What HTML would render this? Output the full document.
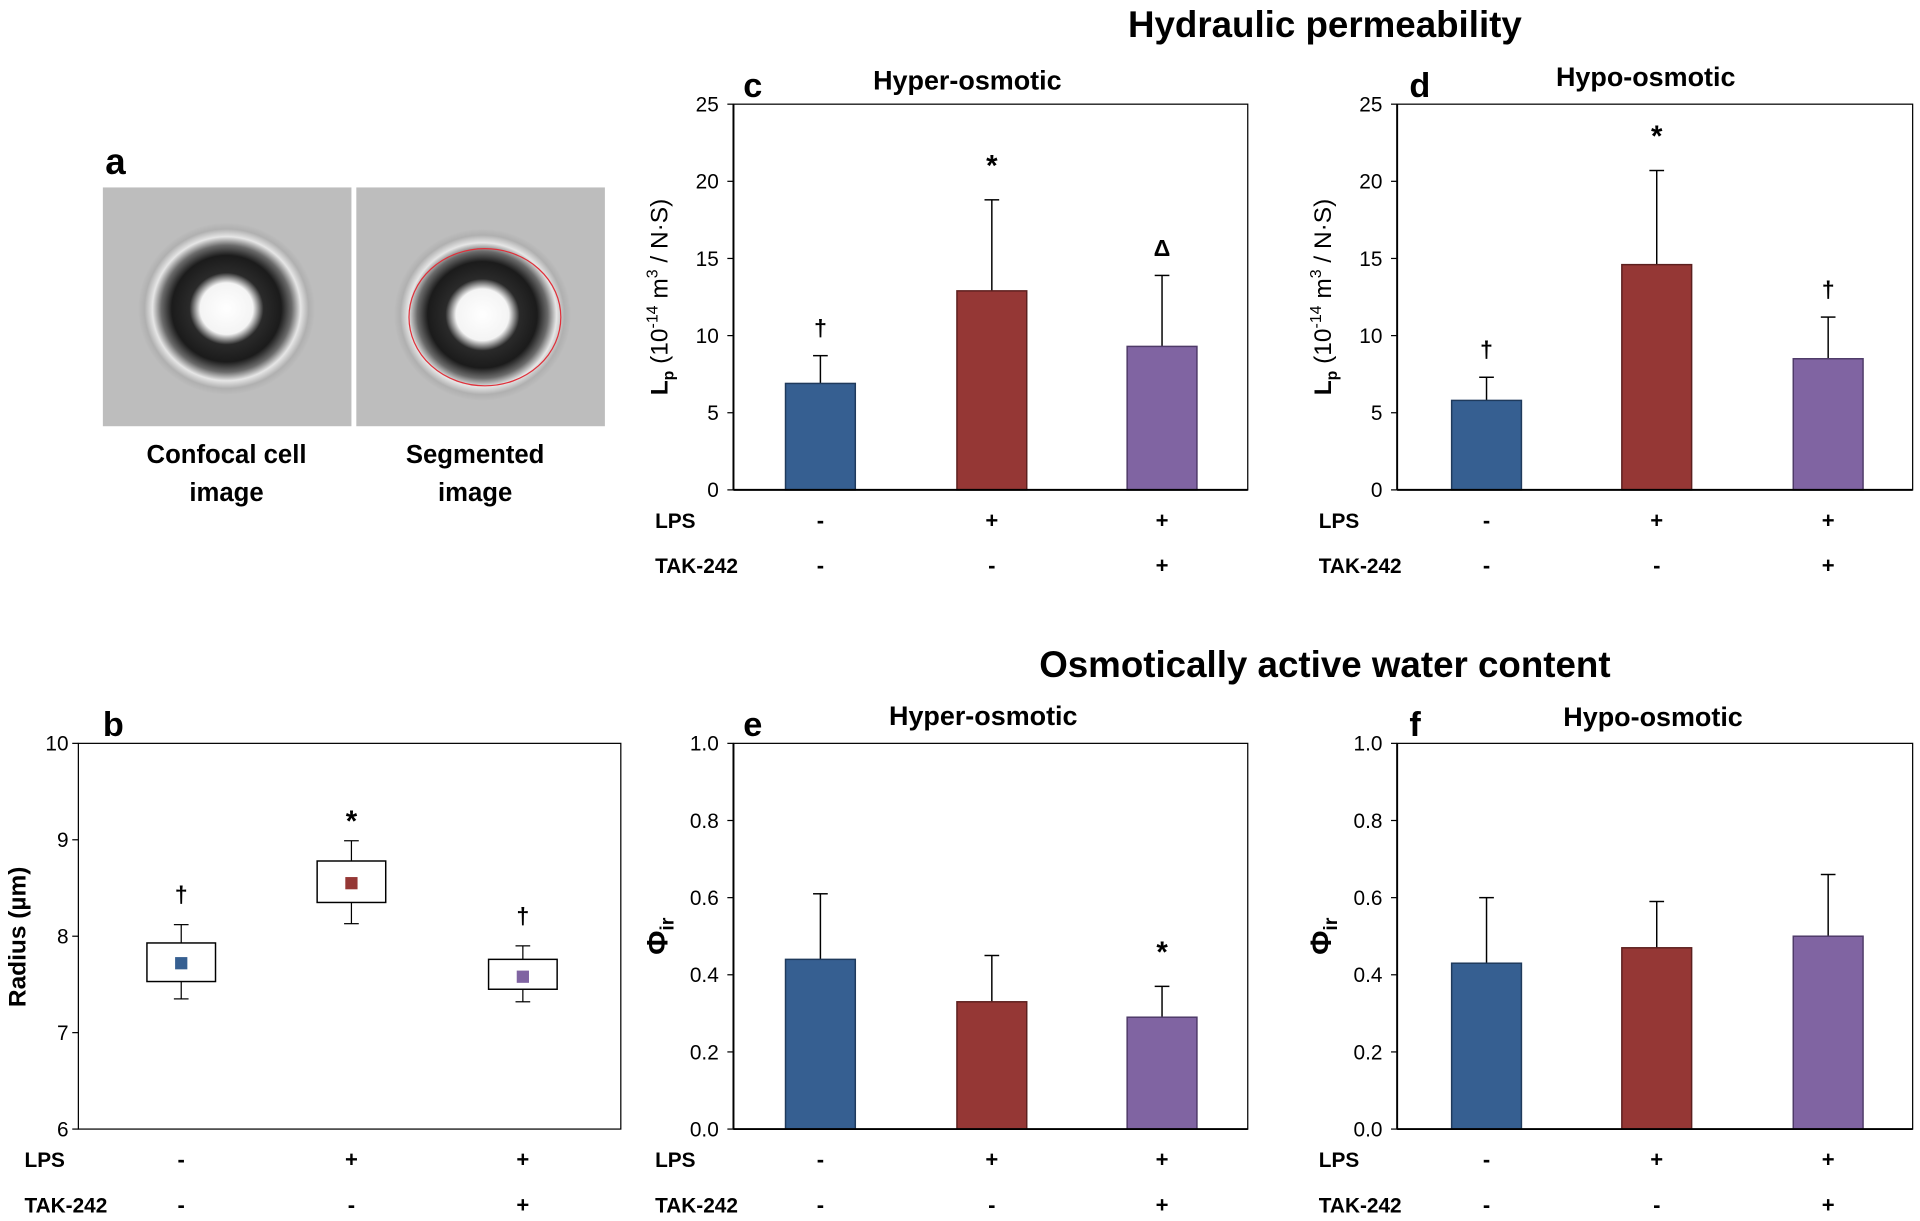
<!DOCTYPE html>
<html><head><meta charset="utf-8"><style>
html,body{margin:0;padding:0;background:#fff}
svg{display:block}
text{font-family:"Liberation Sans",sans-serif}
.b{font-weight:bold}
</style></head><body>
<svg id="fig" width="1920" height="1221" viewBox="0 0 1568 997" xmlns="http://www.w3.org/2000/svg">
<defs>
<radialGradient id="cellg" cx="0.5" cy="0.5" r="0.5">
<stop offset="0" stop-color="#fff"/><stop offset="0.3" stop-color="#f4f4f4"/>
<stop offset="0.42" stop-color="#2a2a2a"/><stop offset="0.62" stop-color="#1b1b1b"/>
<stop offset="0.74" stop-color="#6a6a6a"/><stop offset="0.84" stop-color="#e6e6e6"/>
<stop offset="0.93" stop-color="#b0b0b0"/><stop offset="1" stop-color="#bcbcbc"/>
</radialGradient>
</defs>
<g id="panelA">
<text x="86" y="142" font-size="30" class="b">a</text>
<rect x="84" y="153" width="203" height="195" fill="#bdbdbd"/>
<ellipse cx="185" cy="252" rx="72" ry="70" fill="url(#cellg)"/>
<rect x="291" y="153" width="203" height="195" fill="#bdbdbd"/>
<ellipse cx="394" cy="257" rx="72" ry="70" fill="url(#cellg)"/>
<ellipse cx="396" cy="259" rx="62" ry="56" fill="none" stroke="#e0303a" stroke-width="1"/>
<text x="185" y="378" font-size="21" class="b" text-anchor="middle">Confocal cell</text>
<text x="185" y="409" font-size="21" class="b" text-anchor="middle">image</text>
<text x="388" y="378" font-size="21" class="b" text-anchor="middle">Segmented</text>
<text x="388" y="409" font-size="21" class="b" text-anchor="middle">image</text>
</g>
<text x="1082" y="30" font-size="30" class="b" text-anchor="middle">Hydraulic permeability</text>
<text x="1082" y="553" font-size="30" class="b" text-anchor="middle">Osmotically active water content</text>
</svg>
<script>
const NS="http://www.w3.org/2000/svg";
const svg=document.getElementById('fig');
const colors=["#365f91","#953735","#8064a2"];
const strokes=["#1f3a5c","#5c1f1e","#4e3a68"];
const lpsSigns=["-","+","+"];
const takSigns=["-","-","+"];
// panel c
const cMeans=[6.9,12.9,9.3];
const cErr=[8.7,18.8,13.9];
const cMarks=["†","*","Δ"];
const lpTicks=[0,5,10,15,20,25];
// panel d
const dMeans=[5.8,14.6,8.5];
const dErr=[7.3,20.7,11.2];
const dMarks=["†","*","†"];
// panel e
const eMeans=[0.44,0.33,0.29];
const eErr=[0.61,0.45,0.37];
const eMarks=["","","*"];
const phiTicks=["0.0","0.2","0.4","0.6","0.8","1.0"];
// panel f
const fMeans=[0.43,0.47,0.50];
const fErr=[0.60,0.59,0.66];
// panel b
const bQ1=[7.53,8.35,7.45];
const bQ3=[7.93,8.78,7.76];
const bMin=[7.35,8.13,7.32];
const bMax=[8.12,8.99,7.9];
const bMean=[7.72,8.55,7.58];
const bMarks=["†","*","†"];
const rTicks=[6,7,8,9,10];

function el(tag,attrs,parent,txt){const e=document.createElementNS(NS,tag);for(const k in attrs)e.setAttribute(k,attrs[k]);if(txt!==undefined)e.textContent=txt;(parent||svg).appendChild(e);return e;}

function frame(g,x0,x1,y0,y1,ticks,ymin,ymax,lblX){
  const ys=v=>y1-(v-ymin)/(ymax-ymin)*(y1-y0);
  const r=el('rect',{x:x0,y:y0,width:x1-x0,height:y1-y0,fill:'none',stroke:'#000','stroke-width':1},g);
  
  
  ticks.forEach(t=>{const v=parseFloat(t);const y=ys(v);
    const l=el('line',{x1:x0-5,x2:x0,y1:y,y2:y,stroke:'#000'},g);
    
    
    const tx=el('text',{x:lblX,y:y+6,'font-size':17,'text-anchor':'end'},g,String(t));
    
    
  });
  return ys;
}
function rows(g,centers,labX,yL,yT){
  const a=el('text',{x:labX,y:yL,'font-size':17,class:'b'},g,'LPS');
  
  
  const b=el('text',{x:labX,y:yT,'font-size':17,class:'b'},g,'TAK-242');
  
  
  centers.forEach((c,i)=>{
    const s=el('text',{x:c,y:yL,'font-size':18,class:'b','text-anchor':'middle'},g,lpsSigns[i]);
    
    
    const t=el('text',{x:c,y:yT,'font-size':18,class:'b','text-anchor':'middle'},g,takSigns[i]);
    
    
  });
}
function barPanel(name,letter,title,titleX,titleY,x0,x1,y0,y1,centers,means,errs,marks,ticks,ymin,ymax,ylab,isPhi){
  const g=el('g',{});
  
  
  const ys=frame(g,x0,x1,y0,y1,ticks,ymin,ymax,x0-12);
  const w=57;
  means.forEach((m,i)=>{
    const c=centers[i];
    const e=el('line',{x1:c,x2:c,y1:ys(m),y2:ys(errs[i]),stroke:'#000','stroke-width':1.2},g);
    
    
    const cap=el('line',{x1:c-6,x2:c+6,y1:ys(errs[i]),y2:ys(errs[i]),stroke:'#000','stroke-width':1.2},g);
    
    
    const r=el('rect',{x:c-w/2,y:ys(m),width:w,height:ys(ymin)-ys(m),fill:colors[i],stroke:strokes[i],'stroke-width':1.2},g);
    
    
    if(marks&&marks[i]){
      const mk=el('text',{x:c,y:ys(errs[i])-(marks[i]=='*'?20:16),'font-size':marks[i]=='*'?24:19,class:'b','text-anchor':'middle'},g,marks[i]);
      
      
    }
  });
  const ax=el('line',{x1:x0,x2:x0,y1:y0,y2:y1,stroke:'#000','stroke-width':1.6},g);
  
  
  const bx=el('line',{x1:x0,x2:x1,y1:y1,y2:y1,stroke:'#000','stroke-width':1.6},g);
  
  
  const L=el('text',{x:x0-(letter=='c'||letter=='e'?-8:-10),y:y0-6,'font-size':28,class:'b'},g,letter);
  
  
  const T=el('text',{x:titleX,y:titleY,'font-size':22,class:'b','text-anchor':'middle'},g,title);
  
  
  const cy=(y0+y1)/2, lx=x0-54;
  const yl=el('text',{transform:`translate(${lx},${cy}) rotate(-90)`,'font-size':20,'text-anchor':'middle'},g);
  
  
  if(isPhi){
    el('tspan',{'font-weight':'bold','font-size':24},yl,'Φ');
    el('tspan',{'font-weight':'bold','font-size':16,dy:5},yl,'ir');
  } else {
    el('tspan',{'font-weight':'bold'},yl,'L');
    el('tspan',{'font-weight':'bold','font-size':13,dy:5},yl,'p');
    el('tspan',{dy:-5},yl,' (10');
    el('tspan',{'font-size':13,dy:-8},yl,'-14');
    el('tspan',{dy:8},yl,' m');
    el('tspan',{'font-size':13,dy:-8},yl,'3');
    el('tspan',{dy:8},yl,' / N·S)');
  }
  rows(g,centers,x0-64,y1+31,y1+68);
}
barPanel('panel-c','c','Hyper-osmotic',790,73,599,1019,85,400,[670,810,949],cMeans,cErr,cMarks,lpTicks,0,25,'',false);
barPanel('panel-d','d','Hypo-osmotic',1344,70,1141,1562,85,400,[1214,1353,1493],dMeans,dErr,dMarks,lpTicks,0,25,'',false);
barPanel('panel-e','e','Hyper-osmotic',803,592,599,1019,607,922,[670,810,949],eMeans,eErr,eMarks,phiTicks,0,1,'',true);
barPanel('panel-f','f','Hypo-osmotic',1350,593,1141,1562,607,922,[1214,1353,1493],fMeans,fErr,null,phiTicks,0,1,'',true);

// panel b
(function(){
  const g=el('g',{});
  
  
  const x0=64,x1=507,y0=607,y1=922;
  const ys=frame(g,x0,x1,y0,y1,rTicks,6,10,x0-8);
  const centers=[148,287,427], w=56;
  centers.forEach((c,i)=>{
    const wl=el('line',{x1:c,x2:c,y1:ys(bMin[i]),y2:ys(bMax[i]),stroke:'#000'},g);
    
    
    [bMin[i],bMax[i]].forEach(v=>{
      const cp=el('line',{x1:c-6,x2:c+6,y1:ys(v),y2:ys(v),stroke:'#000'},g);
      
      
    });
    const bx=el('rect',{x:c-w/2,y:ys(bQ3[i]),width:w,height:ys(bQ1[i])-ys(bQ3[i]),fill:'#fff',stroke:'#000','stroke-width':1.2},g);
    
    
    const m=el('rect',{x:c-5,y:ys(bMean[i])-5,width:10,height:10,fill:colors[i]},g);
    
    
    const mk=el('text',{x:c,y:ys(bMax[i])-(bMarks[i]=='*'?0:18),'font-size':bMarks[i]=='*'?24:19,class:'b','text-anchor':'middle'},g,bMarks[i]);
    if(bMarks[i]=='*')mk.setAttribute('y',ys(bMax[i])-8);
    
    
  });
  const L=el('text',{x:84,y:601,'font-size':28,class:'b'},g,'b');
  
  
  const yl=el('text',{transform:'translate(21,765) rotate(-90)','font-size':20,class:'b','text-anchor':'middle'},g,'Radius (µm)');
  
  
  rows(g,centers,20,y1+31,y1+68);
})();
</script>
</body></html>
